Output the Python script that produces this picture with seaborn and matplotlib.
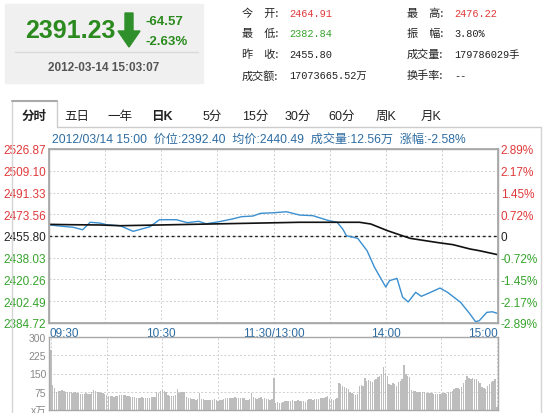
import numpy as np
import pandas as pd
import seaborn as sns
import matplotlib.pyplot as plt
from matplotlib.patches import Rectangle, Polygon
from matplotlib.lines import Line2D

# minute index (0 = 09:30, 120 = 11:30/13:00, 240 = 15:00) and price
price_min = [0, 6, 13, 18, 22, 27, 31, 38, 45, 54, 59, 68, 74, 80, 84, 91, 98, 103,
             109, 113, 120, 127, 134, 141, 149, 154, 157, 159, 165, 170, 174, 180,
             182, 186, 189, 192, 196, 199, 204, 209, 213, 220, 225, 228, 230, 234,
             237, 240]
price_val = [2464.91, 2463.9, 2462.9, 2460.9, 2467.0, 2466.4, 2465.0, 2464.2, 2459.6,
             2463.4, 2469.1, 2469.1, 2466.7, 2467.8, 2465.8, 2467.5, 2469.7, 2471.6,
             2472.1, 2474.3, 2474.8, 2475.6, 2472.9, 2472.4, 2468.6, 2467.0, 2461.5,
             2456.0, 2453.9, 2443.8, 2430.2, 2414.1, 2419.3, 2421.2, 2405.9, 2401.9,
             2409.8, 2406.5, 2409.8, 2413.3, 2409.8, 2401.6, 2392.1, 2385.8, 2386.6,
             2393.4, 2393.9, 2392.40]

avg_min = [0, 13, 27, 38, 59, 86, 107, 134, 150, 166, 172, 181, 193, 207, 216, 225, 230, 240]
avg_val = [2465.3, 2465.0, 2464.8, 2464.2, 2464.8, 2465.6, 2466.2, 2467.0, 2467.0,
           2467.0, 2465.6, 2460.1, 2453.9, 2450.6, 2448.7, 2445.2, 2443.8, 2440.49]

# volume per minute (x万)
vol = [245, 102, 89,
       75, 78, 80, 82, 78,
       74, 73, 75, 72, 71, 73, 70,
       68, 66, 67, 65, 68, 66, 67,
       72, 82,
       78, 74, 72, 70, 68, 66,
       60, 58, 57, 56, 55, 57, 58, 60, 62, 63, 60, 58, 56, 55,
       53, 52, 51, 50, 50, 52, 51, 50, 49, 50, 52, 53, 55,
       72, 70, 78, 82, 80, 76,
       60, 58, 57, 59, 60,
       85, 70, 72, 75, 73,
       52, 50, 48, 46, 44, 42, 45, 68,
       46, 44, 42, 41, 43, 40, 42, 44, 40, 38, 41, 43, 45,
       50, 49, 51, 48, 50, 52, 49, 50, 51, 48, 50,
       42, 40, 44, 68,
       52, 48, 45, 50, 54, 46, 48, 44, 45, 42, 44,
       132,
       30, 31, 30, 29, 32,
       35, 36, 38, 37, 40, 38, 36, 40, 38, 35, 36, 34,
       42, 44, 45, 43, 46, 45, 44, 48, 50, 49,
       55, 58, 45, 44, 43, 46, 48,
       109, 105, 100, 96, 92,
       85, 75, 70, 65, 62, 64,
       100, 102, 98, 130,
       118, 125, 120, 115, 122, 128, 135,
       140, 148, 177, 152, 140, 106,
       102, 110, 105, 100, 115, 120, 128,
       184, 150, 140, 135, 82,
       80, 78, 76, 75, 74, 72, 73, 70, 71, 69, 68, 67, 66, 65, 64, 66,
       70, 68, 65, 72, 75, 78,
       88, 92, 90, 86, 95,
       110, 125, 140, 133, 128,
       130, 128, 126, 120, 112,
       95, 90, 85,
       100, 108, 115, 120, 128,
       14]
vol_min = list(range(len(vol)))

pre_close = 2455.80
y_ticks = [2384.72, 2402.49, 2420.26, 2438.03, 2455.80, 2473.56, 2491.33, 2509.10, 2526.87]
pct_labels = ['-2.89%', '-2.17%', '-1.45%', '-0.72%', '0', '0.72%', '1.45%', '2.17%', '2.89%']
x_labels = ['09:30', '', '10:30', '', '11:30/13:00', '', '14:00', '', '15:00']
tabs = ['分时', '五日', '一年', '日K', '5分', '15分', '30分', '60分', '周K', '月K']
tab_x = [34, 77, 120, 162, 212, 255, 298, 342, 386, 431]

RED = '#e0393a'
GREEN = '#36a32c'
BLUE = '#3a8fd0'
TXT_BLUE = '#2d6ca2'
GRID = '#cfcfcf'
SPINE = '#a8a8a8'

sns.set_theme(style='white')
plt.rcParams['font.family'] = ['Liberation Sans', 'Noto Sans CJK SC']

W, H = 550, 414
fig = plt.figure(figsize=(W / 100, H / 100), dpi=100)


def rect(x0, y0, x1, y1):
    return [x0 / W, 1 - y1 / H, (x1 - x0) / W, (y1 - y0) / H]


def fx(x):
    return x / W


def fy(y):
    return 1 - y / H


def hline(x0, x1, y, color='#cfcfcf', lw=1):
    fig.add_artist(Line2D([fx(x0), fx(x1)], [fy(y), fy(y)], color=color, lw=lw))


def vline(x, y0, y1, color='#cfcfcf', lw=1):
    fig.add_artist(Line2D([fx(x), fx(x)], [fy(y0), fy(y1)], color=color, lw=lw))


# ---- quote box ----
fig.add_artist(Rectangle((fx(5), fy(84)), (203 - 5) / W, (84 - 5) / H,
                         transform=fig.transFigure, color='#f0f0f0', zorder=0))
hline(15, 198, 53, color='#dadada')
fig.text(fx(25), fy(31), '2391.23', color='#2b8a1e', fontsize=18, fontweight='bold',
         va='center', ha='left')
fig.add_artist(Polygon([(fx(125), fy(14)), (fx(133), fy(14)), (fx(133), fy(32)),
                        (fx(140), fy(32)), (fx(129), fy(48)), (fx(118), fy(32)),
                        (fx(125), fy(32))], closed=True, transform=fig.transFigure,
                       color='#2f8f2a'))
fig.text(fx(145), fy(22), '-64.57', color='#2b8a1e', fontsize=9.5, fontweight='bold',
         va='center')
fig.text(fx(145), fy(42), '-2.63%', color='#2b8a1e', fontsize=9.5, fontweight='bold',
         va='center')
fig.text(fx(104), fy(68), '2012-03-14 15:03:07', color='#555555', fontsize=8.5,
         fontweight='bold', va='center', ha='center')

# ---- info grid ----
info_rows = [14, 34, 55, 76]
left_lab = ['今\u3000开:', '最\u3000低:', '昨\u3000收:', '成交额:']
left_val = ['2464.91', '2382.84', '2455.80', '17073665.52万']
left_col = [RED, GREEN, '#222222', '#222222']
right_lab = ['最\u3000高:', '振\u3000幅:', '成交量:', '换手率:']
right_val = ['2476.22', '3.80%', '179786029手', '--']
right_col = [RED, '#222222', '#222222', '#222222']
mono = ['Liberation Mono', 'Noto Sans CJK SC']
for i, yy in enumerate(info_rows):
    fig.text(fx(242), fy(yy), left_lab[i], fontsize=8, va='center', color='#222222',
             family=['Noto Sans CJK SC'])
    fig.text(fx(289), fy(yy), left_val[i], fontsize=7.4, va='center', color=left_col[i],
             family=mono)
    fig.text(fx(407), fy(yy), right_lab[i], fontsize=8, va='center', color='#222222',
             family=['Noto Sans CJK SC'])
    fig.text(fx(454), fy(yy), right_val[i], fontsize=7.4, va='center', color=right_col[i],
             family=mono)

# ---- tabs ----
hline(57, 541, 128, color='#cccccc')
vline(12, 102, 414, color='#d4d4d4')
vline(57, 102, 128, color='#cccccc')
hline(12, 57, 102, color='#aaaaaa', lw=1.5)
vline(541, 128, 414, color='#d4d4d4')
for i, (t, x) in enumerate(zip(tabs, tab_x)):
    fig.text(fx(x), fy(117), t, fontsize=9, ha='center', va='center', color='#222222',
             fontweight='bold' if t in ('分时', '日K') else 'normal')

fig.text(fx(52), fy(140), '2012/03/14 15:00  价位:2392.40  均价:2440.49  成交量:12.56万  涨幅:-2.58%',
         fontsize=8.7, color=TXT_BLUE, va='center', ha='left')

# ---- price chart ----
ax = fig.add_axes(rect(49, 150, 498, 324))
price_df = pd.DataFrame({'minute': price_min, 'price': price_val})
avg_df = pd.DataFrame({'minute': avg_min, 'price': avg_val})
sns.lineplot(data=price_df, x='minute', y='price', ax=ax, color=BLUE, lw=1)
sns.lineplot(data=avg_df, x='minute', y='price', ax=ax, color='#111111', lw=1.2)
ax.axhline(pre_close, color='#222222', lw=1, ls=(0, (2, 2)), zorder=1)
ax.set_xlim(0, 240)
ax.set_ylim(y_ticks[0], y_ticks[-1])
ax.set_xticks(range(0, 241, 30))
ax.set_xticklabels(x_labels)
ax.set_yticks(y_ticks)
ax.set_yticklabels([f'{v:.2f}' for v in y_ticks])
ax.grid(True, color=GRID, lw=0.7, ls=(0, (2, 2)))
ax.set_xlabel('')
ax.set_ylabel('')
ax.tick_params(length=0, labelsize=8.5, pad=2)
ax.tick_params(axis='x', colors=TXT_BLUE, pad=3)
xl = ax.get_xticklabels()
xl[0].set_ha('left')
xl[-1].set_ha('right')
for i, lab in enumerate(ax.get_yticklabels()):
    lab.set_color(GREEN if i < 4 else ('#222222' if i == 4 else RED))
for s in ax.spines.values():
    s.set_color(SPINE)
    s.set_linewidth(1)

ax2 = ax.twinx()
ax2.set_ylim(y_ticks[0], y_ticks[-1])
ax2.set_yticks(y_ticks)
ax2.set_yticklabels(pct_labels)
ax2.tick_params(length=0, labelsize=8.5, pad=2)
for i, lab in enumerate(ax2.get_yticklabels()):
    lab.set_color(GREEN if i < 4 else ('#222222' if i == 4 else RED))
for s in ax2.spines.values():
    s.set_color(SPINE)

# ---- volume chart ----
axv = fig.add_axes(rect(49, 338, 498, 411))
sns.barplot(x=vol_min, y=vol, ax=axv, native_scale=True, color='#bdbdbd',
            saturation=1, width=0.75, errorbar=None, linewidth=0)
axv.set_xlim(-1.0, 240.6)
axv.set_ylim(0, 300)
axv.set_xticks(range(0, 241, 30))
axv.set_xticklabels([])
axv.set_yticks([0, 75, 150, 225, 300])
axv.set_yticklabels(['x万', '75', '150', '225', '300'])
axv.grid(True, color=GRID, lw=0.7, ls=(0, (2, 2)))
axv.set_axisbelow(True)
axv.tick_params(length=0, labelsize=7.5, pad=2, colors='#888888')
for s in axv.spines.values():
    s.set_color(SPINE)
    s.set_linewidth(1)

fig.savefig('out.png', dpi=100)
